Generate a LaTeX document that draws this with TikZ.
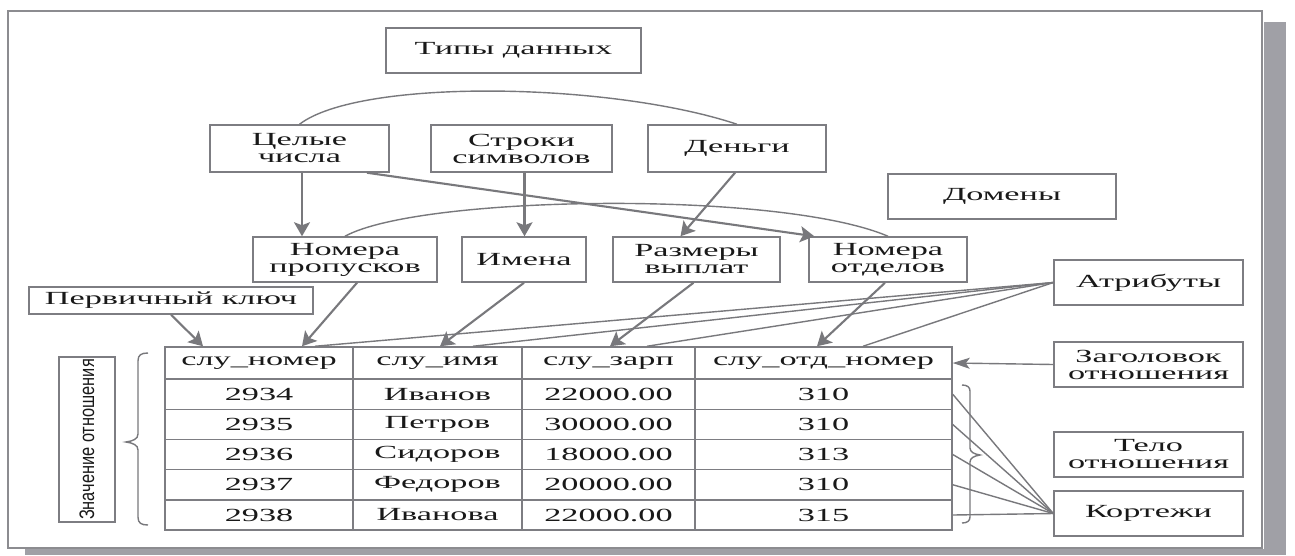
\documentclass[tikz,border=0pt]{standalone}
\usepackage{fontspec}
\setmainfont{Liberation Serif}[FakeStretch=1.85]
\newfontfamily\znfont{Liberation Sans}[FakeStretch=0.78]
\usetikzlibrary{arrows.meta}
\definecolor{linec}{RGB}{120,120,124}
\definecolor{boxc}{RGB}{125,125,130}
\definecolor{txt}{RGB}{25,25,25}
\definecolor{shadowc}{RGB}{160,160,166}
\definecolor{framec}{RGB}{140,140,144}
\newcommand\bfnt{\fontsize{18.5}{17}\selectfont}
\tikzset{
  box/.style={draw=boxc, line width=1.5pt, inner sep=0pt, text=txt, align=center, font=\bfnt},
  cell/.style={draw=boxc, line width=1.5pt, inner sep=0pt, text=txt, font=\bfnt},
  arr/.style={draw=linec, line width=2.1pt, -{Stealth[length=14pt,width=16pt,inset=3pt]}},
  thinarr/.style={draw=linec, line width=1.4pt, -{Stealth[length=17pt,width=11pt,inset=4pt]}},
  ln/.style={draw=linec, line width=1.4pt},
  brc/.style={draw=linec, line width=1.4pt},
}
\begin{document}
\begin{tikzpicture}[x=1pt,y=-1pt]
\useasboundingbox (0,0) rectangle (1295,555);
\fill[white] (0,0) rectangle (1295,555);
% frame and shadow
\fill[shadowc] (1264,22) rectangle (1286,555);
\fill[shadowc] (25,549) rectangle (1286,555);
\draw[framec, line width=1.2pt] (8,11) rectangle (1262,548);

% boxes
\node[box, minimum width=255pt, minimum height=45pt] (typ) at (513.5,50.5) {Типы данных};
\node[box, minimum width=179pt, minimum height=47pt] (celye) at (299.5,148.5) {Целые\\числа};
\node[box, minimum width=181pt, minimum height=47pt] (stroki) at (521.5,148.5) {Строки\\символов};
\node[box, minimum width=178pt, minimum height=47pt] (dengi) at (737,148.5) {Деньги};
\node[box, minimum width=228pt, minimum height=45pt] (domeny) at (1002,196.5) {Домены};
\node[box, minimum width=184pt, minimum height=45pt] (nomprop) at (345,259.5) {Номера\\пропусков};
\node[box, minimum width=124pt, minimum height=45pt] (imena) at (524,259.5) {Имена};
\node[box, minimum width=167pt, minimum height=45pt] (razm) at (696.5,259.5) {Размеры\\выплат};
\node[box, minimum width=158pt, minimum height=45pt] (nomotd) at (888,259.5) {Номера\\отделов};
\node[box, minimum width=284pt, minimum height=27pt] (pk) at (171,300.5) {Первичный ключ};
\node[box, minimum width=189pt, minimum height=45pt] (atr) at (1148.5,282.5) {Атрибуты};
\node[box, minimum width=189pt, minimum height=45pt] (zag) at (1148.5,364.5) {Заголовок\\отношения};
\node[box, minimum width=189pt, minimum height=45pt] (telo) at (1148.5,454.5) {Тело\\отношения};
\node[box, minimum width=189pt, minimum height=45pt] (kort) at (1148.5,513.5) {Кортежи};
\node[box, rotate=90, minimum width=165pt, minimum height=56pt, font=\znfont\fontsize{21}{21}\selectfont] (znach) at (87,439.5) {Значение отношения};

% table header
\node[cell, minimum width=188pt, minimum height=32pt] (h1) at (259,363) {слу\_номер};
\node[cell, minimum width=169pt, minimum height=32pt] (h2) at (437.5,363) {слу\_имя};
\node[cell, minimum width=173pt, minimum height=32pt] (h3) at (608.5,363) {слу\_зарп};
\node[cell, minimum width=257pt, minimum height=32pt] (h4) at (823.5,363) {слу\_отд\_номер};
% rows
\node[cell, minimum width=188pt, minimum height=30.5pt] (r1c1) at (259,394.25) {2934};
\node[cell, minimum width=169pt, minimum height=30.5pt] (r1c2) at (437.5,394.25) {Иванов};
\node[cell, minimum width=173pt, minimum height=30.5pt] (r1c3) at (608.5,394.25) {22000.00};
\node[cell, minimum width=257pt, minimum height=30.5pt] (r1c4) at (823.5,394.25) {310};
\node[cell, minimum width=188pt, minimum height=30pt] (r2c1) at (259,424.5) {2935};
\node[cell, minimum width=169pt, minimum height=30pt] (r2c2) at (437.5,424.5) {Петров};
\node[cell, minimum width=173pt, minimum height=30pt] (r2c3) at (608.5,424.5) {30000.00};
\node[cell, minimum width=257pt, minimum height=30pt] (r2c4) at (823.5,424.5) {310};
\node[cell, minimum width=188pt, minimum height=30pt] (r3c1) at (259,454.5) {2936};
\node[cell, minimum width=169pt, minimum height=30pt] (r3c2) at (437.5,454.5) {Сидоров};
\node[cell, minimum width=173pt, minimum height=30pt] (r3c3) at (608.5,454.5) {18000.00};
\node[cell, minimum width=257pt, minimum height=30pt] (r3c4) at (823.5,454.5) {313};
\node[cell, minimum width=188pt, minimum height=30.5pt] (r4c1) at (259,484.75) {2937};
\node[cell, minimum width=169pt, minimum height=30.5pt] (r4c2) at (437.5,484.75) {Федоров};
\node[cell, minimum width=173pt, minimum height=30.5pt] (r4c3) at (608.5,484.75) {20000.00};
\node[cell, minimum width=257pt, minimum height=30.5pt] (r4c4) at (823.5,484.75) {310};
\node[cell, minimum width=188pt, minimum height=30pt] (r5c1) at (259,515) {2938};
\node[cell, minimum width=169pt, minimum height=30pt] (r5c2) at (437.5,515) {Иванова};
\node[cell, minimum width=173pt, minimum height=30pt] (r5c3) at (608.5,515) {22000.00};
\node[cell, minimum width=257pt, minimum height=30pt] (r5c4) at (823.5,515) {315};

% arcs
\draw[ln] (celye.north) .. controls (360,78) and (610,82) .. (dengi.north);
\draw[ln] (nomprop.north) .. controls (420,195) and (780,190) .. (nomotd.north);

% type -> domain arrows
\draw[arr] ([xshift=2.5pt]celye.south) -- ([xshift=2.5pt]celye.south |- nomprop.north);
\draw[arr] ([xshift=3pt]stroki.south) -- ([xshift=3pt]stroki.south |- imena.north);
\draw[arr] ([xshift=-2pt]dengi.south) -- ([xshift=-16pt]razm.north);
\draw[arr] ([xshift=67.5pt]celye.south) -- ([xshift=6pt]nomotd.north west);

% domain -> attribute arrows
\draw[arr] ([xshift=12pt]nomprop.south) -- ([xshift=43pt]h1.north);
\draw[arr] (imena.south) -- ([xshift=2.5pt]h2.north);
\draw[arr] ([xshift=-3pt]razm.south) -- ([xshift=1.5pt]h3.north);
\draw[arr] ([xshift=-3pt]nomotd.south) -- ([xshift=-6.5pt]h4.north);
\draw[arr] (pk.south) -- ([xshift=-56pt]h1.north);

% attribute lines
\draw[ln] (atr.west) -- ([xshift=56pt]h1.north);
\draw[ln] (atr.west) -- ([xshift=35.5pt]h2.north);
\draw[ln] (atr.west) -- ([xshift=38.5pt]h3.north);
\draw[ln] (atr.west) -- ([xshift=39.5pt]h4.north);

% header arrow
\draw[thinarr] (zag.west) -- (h4.east);

% tuples lines
\draw[ln] (kort.west) -- (r1c4.east);
\draw[ln] (kort.west) -- (r2c4.east);
\draw[ln] (kort.west) -- (r3c4.east);
\draw[ln] (kort.west) -- (r4c4.east);
\draw[ln] (kort.west) -- (r5c4.east);

% braces
\draw[brc] (148,353) .. controls (141,353) and (138,355) .. (138,361) -- (138,434)
  .. controls (138,439) and (133,441) .. (126,442)
  .. controls (133,443) and (138,445) .. (138,450) -- (138,517)
  .. controls (138,523) and (141,525) .. (148,525);
\draw[brc] (962,385) .. controls (967,385) and (970,387) .. (970,391) -- (970,448)
  .. controls (970,452) and (974,454) .. (980,455)
  .. controls (974,456) and (970,458) .. (970,462) -- (970,517)
  .. controls (970,521) and (967,523) .. (962,523);
\end{tikzpicture}
\end{document}
